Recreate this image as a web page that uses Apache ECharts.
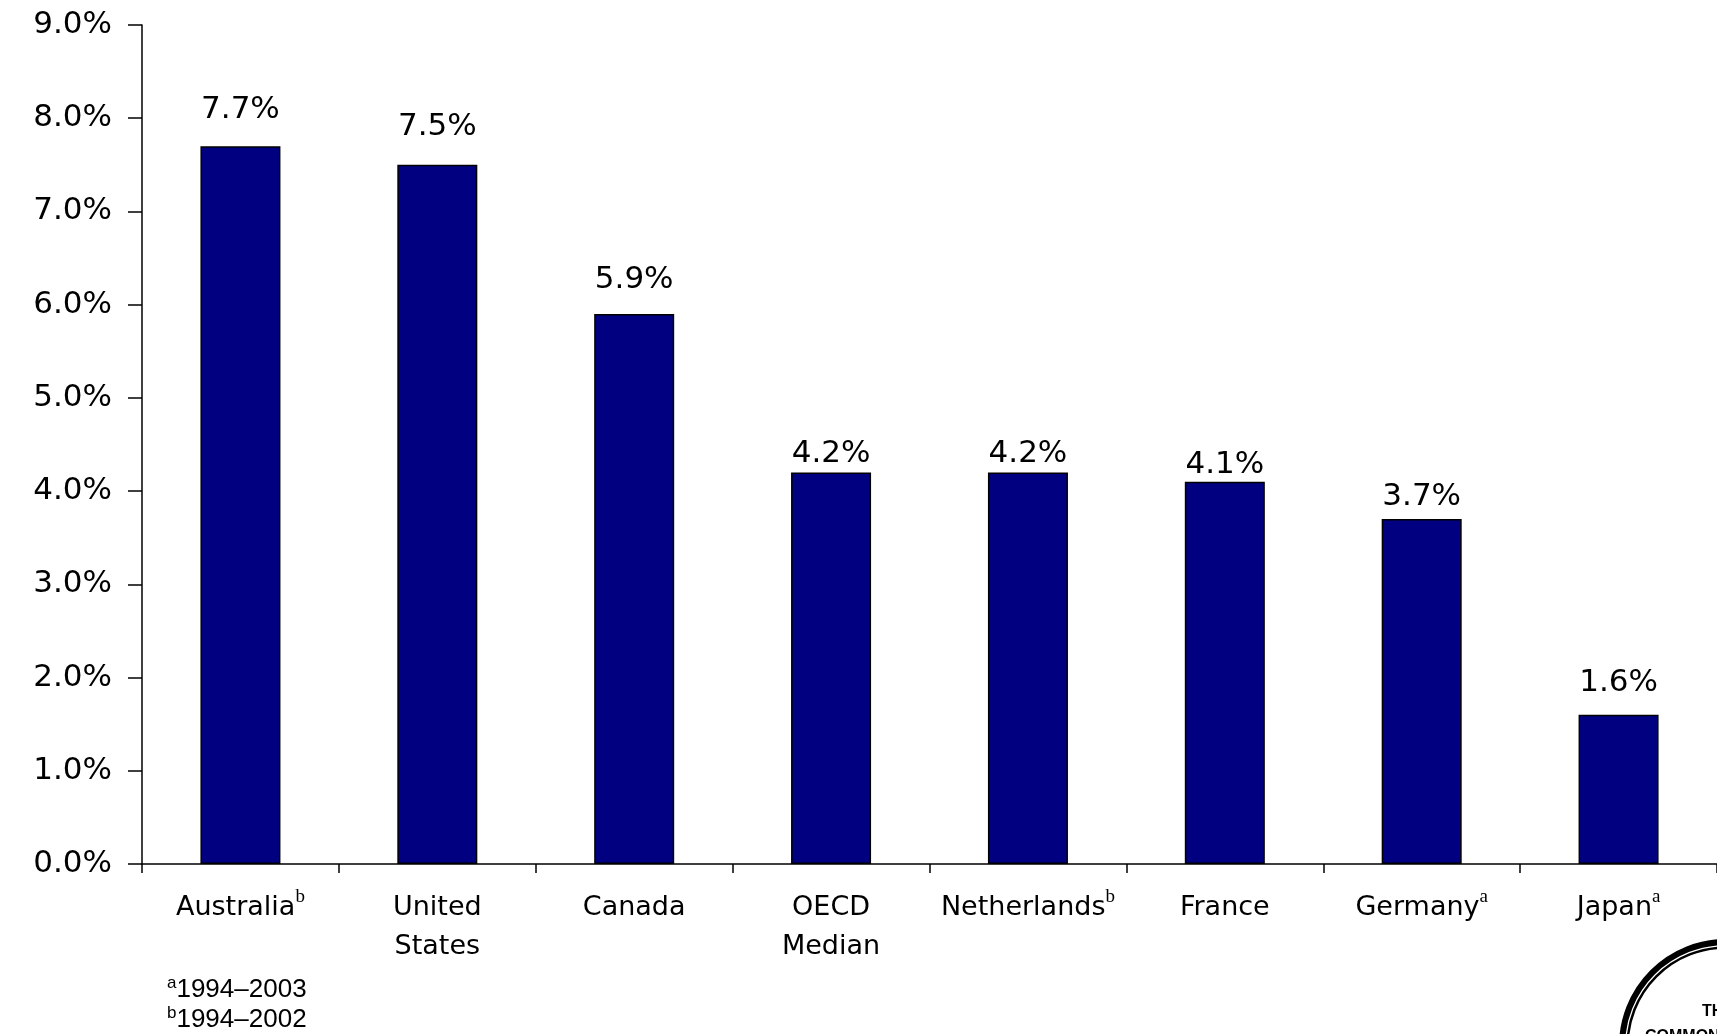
<!DOCTYPE html>
<html>
<head>
<meta charset="utf-8">
<title>Average annual growth</title>
<script src="https://cdn.jsdelivr.net/npm/echarts@6/dist/echarts.min.js"></script>
<style>
  html, body { margin: 0; padding: 0; background: #ffffff; }
  #chart { width: 1717px; height: 1034px; }
</style>
</head>
<body>
<div id="chart"></div>
<script>
// Categories, their footnote markers and the plotted values (percent)
const categories = ['Australia', 'United\nStates', 'Canada', 'OECD\nMedian', 'Netherlands', 'France', 'Germany', 'Japan'];
const footnoteMarks = ['b', '', '', '', 'b', '', 'a', 'a'];
const growthRates = [7.7, 7.5, 5.9, 4.2, 4.2, 4.1, 3.7, 1.6];
const yTicks = { min: 0, max: 9, interval: 1 };
const footnotes = [['a', '1994\u20132003'], ['b', '1994\u20132002']];

// Hand-tuned gap above each bar for its value label (px)
const valueLabelGap = [21, 22, 19, 3, 3, 1, 7, 16];

const wideFont = '"DejaVu Sans", Verdana, sans-serif';
const plainFont = '"Liberation Sans", Arial, sans-serif';
const serifFont = '"Liberation Serif", "Times New Roman", serif';

const chart = echarts.init(document.getElementById('chart'), null, { renderer: 'canvas' });

const barData = growthRates.map((v, i) => ({
  value: v,
  label: { distance: valueLabelGap[i] }
}));

const footnoteText = footnotes.map(f => '{s|' + f[0] + '}{t|' + f[1] + '}').join('\n');

chart.setOption({
  animation: false,
  backgroundColor: '#ffffff',
  grid: { left: 142, top: 25, width: 1580, height: 839, containLabel: false },
  xAxis: {
    type: 'category',
    data: categories,
    axisLine: { lineStyle: { color: '#000000', width: 1.5 } },
    axisTick: { show: true, alignWithLabel: false, length: 9, inside: false, lineStyle: { color: '#000000', width: 1.5 } },
    axisLabel: {
      interval: 0,
      margin: 24,
      color: '#000000',
      fontFamily: wideFont,
      fontSize: 27,
      lineHeight: 39,
      formatter: function (value, idx) {
        const mark = footnoteMarks[idx];
        return value.split('\n').map((line, k) =>
          '{n|' + line + '}' + (k === 0 && mark ? '{s|' + mark + '}' : '')
        ).join('\n');
      },
      rich: {
        n: { fontFamily: wideFont, fontSize: 27, lineHeight: 39, color: '#000000' },
        s: { fontFamily: serifFont, fontSize: 19, lineHeight: 20, verticalAlign: 'top', color: '#000000' }
      }
    },
    splitLine: { show: false }
  },
  yAxis: {
    type: 'value',
    min: yTicks.min,
    max: yTicks.max,
    interval: yTicks.interval,
    axisLine: { show: true, lineStyle: { color: '#000000', width: 1.5 } },
    axisTick: { show: true, length: 14, lineStyle: { color: '#000000', width: 1.5 } },
    axisLabel: {
      margin: 30,
      color: '#000000',
      fontFamily: wideFont,
      fontSize: 31,
      formatter: v => v.toFixed(1) + '%'
    },
    splitLine: { show: false }
  },
  series: [{
    type: 'bar',
    data: barData,
    barWidth: 80,
    itemStyle: { color: '#000080', borderColor: '#000000', borderWidth: 1.5 },
    label: {
      show: true,
      position: 'top',
      color: '#000000',
      fontFamily: wideFont,
      fontSize: 31,
      formatter: p => p.value.toFixed(1) + '%'
    }
  }],
  graphic: [
    {
      type: 'text',
      left: 167,
      top: 975,
      style: {
        text: footnoteText,
        rich: {
          s: { fontFamily: plainFont, fontSize: 17, lineHeight: 30, verticalAlign: 'top', fill: '#000000' },
          t: { fontFamily: plainFont, fontSize: 26, lineHeight: 30, fill: '#000000' }
        }
      }
    },
    // Foundation seal in the lower right corner
    { type: 'circle', shape: { cx: 1726, cy: 1046, r: 104 }, style: { fill: 'none', stroke: '#000000', lineWidth: 6 } },
    { type: 'circle', shape: { cx: 1726, cy: 1046, r: 98.5 }, style: { fill: 'none', stroke: '#000000', lineWidth: 2.5 } },
    {
      type: 'text', x: 1702, y: 1004,
      style: { text: 'THE', fontFamily: plainFont, fontWeight: 'bold', fontSize: 16, fill: '#000000' }
    },
    {
      type: 'text', x: 1645, y: 1029,
      style: { text: 'COMMONWEALTH FUND', fontFamily: plainFont, fontWeight: 'bold', fontSize: 16, fill: '#000000' }
    }
  ]
});
</script>
</body>
</html>
